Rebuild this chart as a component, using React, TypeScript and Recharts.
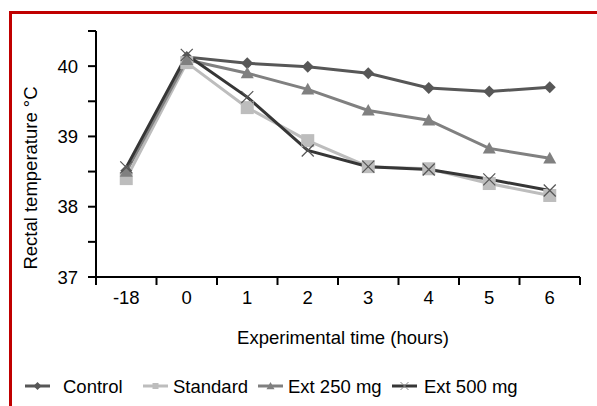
import React from 'react';
import { LineChart, Line, XAxis, YAxis, Legend } from 'recharts';

const categories = ['-18', '0', '1', '2', '3', '4', '5', '6'];
const control = [38.51, 40.13, 40.04, 39.99, 39.9, 39.69, 39.64, 39.7];
const standard = [38.4, 40.05, 39.41, 38.94, 38.57, 38.54, 38.33, 38.16];
const ext250 = [38.5, 40.09, 39.9, 39.67, 39.37, 39.23, 38.83, 38.69];
const ext500 = [38.56, 40.16, 39.56, 38.8, 38.57, 38.53, 38.39, 38.23];
const yTicks = [37, 37.5, 38, 38.5, 39, 39.5, 40, 40.5];
const xTicks = [-0.5, 0, 0.5, 1, 1.5, 2, 2.5, 3, 3.5, 4, 4.5, 5, 5.5, 6, 6.5, 7, 7.5];

const seriesNames = ['Control', 'Standard', 'Ext 250 mg', 'Ext 500 mg'];

const data = categories.map((c, i) => ({
  idx: i,
  cat: c,
  control: control[i],
  standard: standard[i],
  ext250: ext250[i],
  ext500: ext500[i],
}));

const FONT = "'Liberation Sans', Arial, sans-serif";
const FS = 18.5;
const C_CONTROL = '#575757';
const C_STANDARD = '#bdbdbd';
const C_EXT250 = '#808080';
const C_EXT500 = '#363636';

const Diamond = ({ cx, cy, s = 6, fill }: any) => (
  <polygon points={`${cx},${cy - s} ${cx + s},${cy} ${cx},${cy + s} ${cx - s},${cy}`} fill={fill} />
);
const Square = ({ cx, cy, s = 6.5, fill }: any) => (
  <rect x={cx - s} y={cy - s} width={2 * s} height={2 * s} fill={fill} />
);
const Triangle = ({ cx, cy, s = 6.5, fill }: any) => (
  <polygon points={`${cx},${cy - s} ${cx + s},${cy + s * 0.8} ${cx - s},${cy + s * 0.8}`} fill={fill} />
);
const Cross = ({ cx, cy, s = 6, stroke, w = 1.2 }: any) => (
  <g stroke={stroke} strokeWidth={w}>
    <line x1={cx - s} y1={cy - s} x2={cx + s} y2={cy + s} />
    <line x1={cx - s} y1={cy + s} x2={cx + s} y2={cy - s} />
  </g>
);

const XTick = (props: any) => {
  const { x, y, payload } = props;
  const v = payload.value;
  if (Number.isInteger(v)) {
    return (
      <text x={x} y={y + 27} textAnchor="middle" fontSize={FS} fontFamily={FONT} fill="#000">
        {categories[v]}
      </text>
    );
  }
  return <line x1={x} y1={y} x2={x} y2={y + 8} stroke="#000" strokeWidth={2} />;
};

const legendItems = [
  { name: seriesNames[0], color: C_CONTROL, shape: 'diamond', x: 25, tx: 63 },
  { name: seriesNames[1], color: C_STANDARD, shape: 'square', x: 143, tx: 173 },
  { name: seriesNames[2], color: C_EXT250, shape: 'triangle', x: 258, tx: 288 },
  { name: seriesNames[3], color: C_EXT500, shape: 'cross', x: 392, tx: 424 },
];

const LegendContent = () => (
  <svg width={597} height={30} style={{ display: 'block' }}>
    {legendItems.map((it) => {
      const cy = 14;
      const cx = it.x + 12.5;
      return (
        <g key={it.name}>
          <line x1={it.x} y1={cy} x2={it.x + 25} y2={cy} stroke={it.color} strokeWidth={3} />
          {it.shape === 'diamond' && <Diamond cx={cx} cy={cy} s={4} fill={it.color} />}
          {it.shape === 'square' && <Square cx={cx} cy={cy} s={3} fill={it.color} />}
          {it.shape === 'triangle' && <Triangle cx={cx} cy={cy} s={4} fill={it.color} />}
          {it.shape === 'cross' && <Cross cx={cx} cy={cy} s={4} stroke="#888" w={1} />}
          <text x={it.tx} y={cy + 6.5} fontSize={FS} fontFamily={FONT} fill="#000">
            {it.name}
          </text>
        </g>
      );
    })}
  </svg>
);

export default function App() {
  return (
    <div style={{ position: 'absolute', left: 0, top: 0, width: 597, height: 406, background: '#fff', overflow: 'hidden' }}>
      <div
        style={{
          position: 'absolute',
          left: 9,
          top: 11,
          width: 620,
          height: 420,
          borderTop: '3.5px solid #c00000',
          borderLeft: '3.5px solid #c00000',
        }}
      />
      <LineChart
        width={597}
        height={406}
        data={data}
        margin={{ top: 31, right: 17, bottom: 69, left: 0 }}
        style={{ position: 'absolute', left: 0, top: 0 }}
      >
        <XAxis
          dataKey="idx"
          type="number"
          domain={[-0.5, 7.5]}
          ticks={xTicks}
          interval={0}
          tick={<XTick />}
          tickLine={false}
          tickSize={0}
          tickMargin={0}
          height={30}
          axisLine={{ stroke: '#000', strokeWidth: 2 }}
          allowDataOverflow
          label={{
            content: () => (
              <text x={343} y={344} textAnchor="middle" fontSize={FS} fontFamily={FONT} fill="#000">
                Experimental time (hours)
              </text>
            ),
          }}
        />
        <YAxis
          type="number"
          domain={[37, 40.5]}
          ticks={yTicks}
          interval={0}
          width={96}
          tickSize={8}
          tickMargin={10}
          tickFormatter={(v: number) => (Number.isInteger(v) ? String(v) : '')}
          tick={{ fontSize: FS, fontFamily: FONT, fill: '#000' }}
          tickLine={{ stroke: '#000', strokeWidth: 2 }}
          axisLine={{ stroke: '#000', strokeWidth: 2 }}
          allowDataOverflow
          label={{
            content: () => (
              <text
                x={30}
                y={178}
                transform="rotate(-90 30 178)"
                textAnchor="middle"
                dominantBaseline="central"
                fontSize={FS}
                fontFamily={FONT}
                fill="#000"
              >
                Rectal temperature °C
              </text>
            ),
          }}
        />
        <Legend
          content={<LegendContent />}
          wrapperStyle={{ position: 'absolute', left: 0, top: 372, width: 597, height: 30 }}
        />
        <Line
          dataKey="control"
          name={seriesNames[0]}
          stroke={C_CONTROL}
          strokeWidth={3}
          isAnimationActive={false}
          dot={(p: any) => <Diamond key={`c${p.index}`} cx={p.cx} cy={p.cy} s={6} fill={C_CONTROL} />}
        />
        <Line
          dataKey="standard"
          name={seriesNames[1]}
          stroke={C_STANDARD}
          strokeWidth={3}
          isAnimationActive={false}
          dot={(p: any) => <Square key={`s${p.index}`} cx={p.cx} cy={p.cy} s={6.5} fill={C_STANDARD} />}
        />
        <Line
          dataKey="ext250"
          name={seriesNames[2]}
          stroke={C_EXT250}
          strokeWidth={3}
          isAnimationActive={false}
          dot={(p: any) => <Triangle key={`t${p.index}`} cx={p.cx} cy={p.cy} s={6.5} fill={C_EXT250} />}
        />
        <Line
          dataKey="ext500"
          name={seriesNames[3]}
          stroke={C_EXT500}
          strokeWidth={3}
          isAnimationActive={false}
          dot={(p: any) => <Cross key={`x${p.index}`} cx={p.cx} cy={p.cy} s={6} stroke="#555" />}
        />
      </LineChart>
    </div>
  );
}
